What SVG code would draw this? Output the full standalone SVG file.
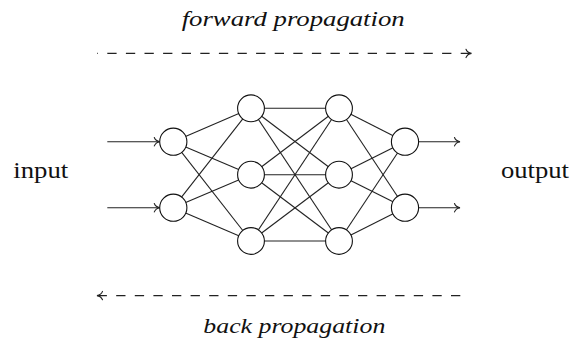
<svg xmlns="http://www.w3.org/2000/svg" width="574" height="341" viewBox="0 0 574 341">
<style>
.edge{stroke:#222;stroke-width:1.1;fill:none}
.dash{stroke:#222;stroke-width:1.1;fill:none;stroke-dasharray:9.3 9.3}
.node{fill:#fff;stroke:#111;stroke-width:1.1}
text{fill:#111}
</style>
<defs>
<marker id="to" viewBox="-8 -6 9 12" refX="0" refY="0" markerWidth="9" markerHeight="12" markerUnits="userSpaceOnUse" orient="auto" overflow="visible">
<path d="M-5.5,-4.2 C-4.5,-1.6 -2,-0.4 0,0 C-2,0.4 -4.5,1.6 -5.5,4.2" fill="none" stroke="#222" stroke-width="1.1" stroke-linecap="round"/>
</marker>
</defs>
<rect width="574" height="341" fill="#fff"/>
<g id="connectors">
<line class="edge" x1="173.3" y1="141.7" x2="251" y2="108.3"/>
<line class="edge" x1="173.3" y1="141.7" x2="251" y2="174.7"/>
<line class="edge" x1="173.3" y1="141.7" x2="251" y2="241"/>
<line class="edge" x1="173.3" y1="207.7" x2="251" y2="108.3"/>
<line class="edge" x1="173.3" y1="207.7" x2="251" y2="174.7"/>
<line class="edge" x1="173.3" y1="207.7" x2="251" y2="241"/>
<line class="edge" x1="251" y1="108.3" x2="339" y2="108.3"/>
<line class="edge" x1="251" y1="108.3" x2="339" y2="174.7"/>
<line class="edge" x1="251" y1="108.3" x2="339" y2="241"/>
<line class="edge" x1="251" y1="174.7" x2="339" y2="108.3"/>
<line class="edge" x1="251" y1="174.7" x2="339" y2="174.7"/>
<line class="edge" x1="251" y1="174.7" x2="339" y2="241"/>
<line class="edge" x1="251" y1="241" x2="339" y2="108.3"/>
<line class="edge" x1="251" y1="241" x2="339" y2="174.7"/>
<line class="edge" x1="251" y1="241" x2="339" y2="241"/>
<line class="edge" x1="339" y1="108.3" x2="405" y2="141.7"/>
<line class="edge" x1="339" y1="108.3" x2="405" y2="207.7"/>
<line class="edge" x1="339" y1="174.7" x2="405" y2="141.7"/>
<line class="edge" x1="339" y1="174.7" x2="405" y2="207.7"/>
<line class="edge" x1="339" y1="241" x2="405" y2="141.7"/>
<line class="edge" x1="339" y1="241" x2="405" y2="207.7"/>
<path class="edge" d="M107.3,141.7 H159.8" marker-end="url(#to)"/>
<path class="edge" d="M107.3,207.7 H159.8" marker-end="url(#to)"/>
<path class="edge" d="M418.5,141.7 H460" marker-end="url(#to)"/>
<path class="edge" d="M418.5,207.7 H460" marker-end="url(#to)"/>
<path class="dash" d="M97.3,53.4 H471.5" stroke-dashoffset="8.6" marker-end="url(#to)"/>
<path class="dash" d="M460.3,295.6 H97" marker-end="url(#to)"/>
</g>
<g id="input-layer">
<circle id="in1" class="node" cx="173.3" cy="141.7" r="13.6"/>
<circle id="in2" class="node" cx="173.3" cy="207.7" r="13.6"/>
</g>
<g id="hidden-layer-1">
<circle id="h1a" class="node" cx="251" cy="108.3" r="13.4"/>
<circle id="h1b" class="node" cx="251" cy="174.7" r="13.4"/>
<circle id="h1c" class="node" cx="251" cy="241" r="13.4"/>
</g>
<g id="hidden-layer-2">
<circle id="h2a" class="node" cx="339" cy="108.3" r="13.4"/>
<circle id="h2b" class="node" cx="339" cy="174.7" r="13.4"/>
<circle id="h2c" class="node" cx="339" cy="241" r="13.4"/>
</g>
<g id="output-layer">
<circle id="out1" class="node" cx="405" cy="141.7" r="13.6"/>
<circle id="out2" class="node" cx="405" cy="207.7" r="13.6"/>
</g>
<g id="labels" font-family="Liberation Serif, DejaVu Serif, serif">
<text id="lbl-input" font-family="Liberation Serif, DejaVu Serif, serif" font-size="23" x="13.3" y="178.3" textLength="55" lengthAdjust="spacingAndGlyphs">input</text>
<text id="lbl-output" font-family="Liberation Serif, DejaVu Serif, serif" font-size="23" x="501" y="178.3" textLength="68" lengthAdjust="spacingAndGlyphs">output</text>
<text id="lbl-forward" font-family="Liberation Serif, DejaVu Serif, serif" font-style="italic" font-size="22" x="181.7" y="26" textLength="223" lengthAdjust="spacingAndGlyphs">forward propagation</text>
<text id="lbl-back" font-family="Liberation Serif, DejaVu Serif, serif" font-style="italic" font-size="22" x="203.3" y="332.5" textLength="182" lengthAdjust="spacingAndGlyphs">back propagation</text>
</g>
</svg>
